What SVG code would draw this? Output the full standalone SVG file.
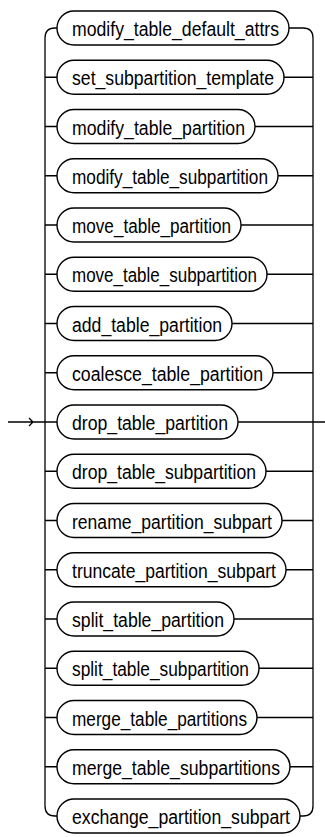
<svg xmlns="http://www.w3.org/2000/svg" width="325" height="837" viewBox="0 0 325 837">
<style>
.p{fill:#fff;stroke:#000;stroke-width:1.4}
.t{font-family:"Liberation Sans",Arial,sans-serif;font-size:20px;fill:#000}
.c{fill:none;stroke:#000;stroke-width:1.3}
</style>
<rect width="325" height="837" fill="#fff"/>
<g id="connectors">
<path class="c" d="M8,422H45M29,418L33,422L29,426"/>
<path class="c" d="M57,28H55Q45,28 45,38V806Q45,816 55,816H57"/>
<path class="c" d="M45,77.25H57M45,126.5H57M45,175.75H57M45,225H57M45,274.25H57M45,323.5H57M45,372.75H57M45,422H57M45,471.25H57M45,520.5H57M45,569.75H57M45,619H57M45,668.25H57M45,717.5H57M45,766.75H57"/>
<path class="c" d="M289,28H303Q313,28 313,38V806Q313,816 303,816H300"/>
<path class="c" d="M284,77.25H313M255,126.5H313M278,175.75H313M241,225H313M267,274.25H313M232,323.5H313M273,372.75H313M238,422H325M266,471.25H313M282,520.5H313M286,569.75H313M234,619H313M259,668.25H313M257,717.5H313M290,766.75H313"/>
</g>
<g id="n0"><rect class="p" x="57" y="11" width="232" height="34" rx="17"/><text class="t" x="72" y="36" textLength="207" lengthAdjust="spacingAndGlyphs">modify_table_default_attrs</text></g>
<g id="n1"><rect class="p" x="57" y="60.25" width="227" height="34" rx="17"/><text class="t" x="72" y="85.25" textLength="202" lengthAdjust="spacingAndGlyphs">set_subpartition_template</text></g>
<g id="n2"><rect class="p" x="57" y="109.5" width="198" height="34" rx="17"/><text class="t" x="72" y="134.5" textLength="173" lengthAdjust="spacingAndGlyphs">modify_table_partition</text></g>
<g id="n3"><rect class="p" x="57" y="158.75" width="221" height="34" rx="17"/><text class="t" x="72" y="183.75" textLength="196" lengthAdjust="spacingAndGlyphs">modify_table_subpartition</text></g>
<g id="n4"><rect class="p" x="57" y="208" width="184" height="34" rx="17"/><text class="t" x="72" y="233" textLength="159" lengthAdjust="spacingAndGlyphs">move_table_partition</text></g>
<g id="n5"><rect class="p" x="57" y="257.25" width="210" height="34" rx="17"/><text class="t" x="72" y="282.25" textLength="185" lengthAdjust="spacingAndGlyphs">move_table_subpartition</text></g>
<g id="n6"><rect class="p" x="57" y="306.5" width="175" height="34" rx="17"/><text class="t" x="72" y="331.5" textLength="150" lengthAdjust="spacingAndGlyphs">add_table_partition</text></g>
<g id="n7"><rect class="p" x="57" y="355.75" width="216" height="34" rx="17"/><text class="t" x="72" y="380.75" textLength="191" lengthAdjust="spacingAndGlyphs">coalesce_table_partition</text></g>
<g id="n8"><rect class="p" x="57" y="405" width="181" height="34" rx="17"/><text class="t" x="72" y="430" textLength="156" lengthAdjust="spacingAndGlyphs">drop_table_partition</text></g>
<g id="n9"><rect class="p" x="57" y="454.25" width="209" height="34" rx="17"/><text class="t" x="72" y="479.25" textLength="184" lengthAdjust="spacingAndGlyphs">drop_table_subpartition</text></g>
<g id="n10"><rect class="p" x="57" y="503.5" width="225" height="34" rx="17"/><text class="t" x="72" y="528.5" textLength="200" lengthAdjust="spacingAndGlyphs">rename_partition_subpart</text></g>
<g id="n11"><rect class="p" x="57" y="552.75" width="229" height="34" rx="17"/><text class="t" x="72" y="577.75" textLength="204" lengthAdjust="spacingAndGlyphs">truncate_partition_subpart</text></g>
<g id="n12"><rect class="p" x="57" y="602" width="177" height="34" rx="17"/><text class="t" x="72" y="627" textLength="152" lengthAdjust="spacingAndGlyphs">split_table_partition</text></g>
<g id="n13"><rect class="p" x="57" y="651.25" width="202" height="34" rx="17"/><text class="t" x="72" y="676.25" textLength="177" lengthAdjust="spacingAndGlyphs">split_table_subpartition</text></g>
<g id="n14"><rect class="p" x="57" y="700.5" width="200" height="34" rx="17"/><text class="t" x="72" y="725.5" textLength="175" lengthAdjust="spacingAndGlyphs">merge_table_partitions</text></g>
<g id="n15"><rect class="p" x="57" y="749.75" width="233" height="34" rx="17"/><text class="t" x="72" y="774.75" textLength="208" lengthAdjust="spacingAndGlyphs">merge_table_subpartitions</text></g>
<g id="n16"><rect class="p" x="57" y="799" width="243" height="34" rx="17"/><text class="t" x="72" y="824" textLength="218" lengthAdjust="spacingAndGlyphs">exchange_partition_subpart</text></g>
</svg>
